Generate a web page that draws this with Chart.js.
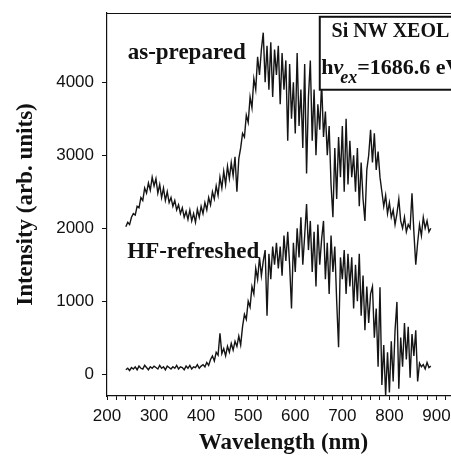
<!DOCTYPE html>
<html>
<head>
    <title>Si NW XEOL</title>
    <style>
        body {
            margin: 0;
            overflow: hidden;
            background: #fff;
        }
        #chartBox {
            width: 460px;
            height: 461px;
        }
    </style>
    <script src="https://cdn.jsdelivr.net/npm/chart.js"></script>
</head>
<body>
    <div id="chartBox">
        <canvas id="xeolChart"></canvas>
    </div>

    <script>
        // wavelength grid (nm), 4 nm step from 240 to 888
        let waveStart = 240;
        let waveStep = 4;

        let asPrepared = [
            2020, 2080, 2050, 2150, 2200, 2180, 2300, 2280, 2420, 2380, 2550, 2480, 2620, 2520, 2700, 2580,
            2680, 2480, 2600, 2420, 2550, 2380, 2500, 2350, 2420, 2300,
            2380, 2250, 2320, 2200, 2280, 2150, 2230, 2120, 2250, 2100, 2200, 2080, 2260, 2150, 2300,
            2200, 2350, 2250, 2420, 2320, 2500, 2400, 2580, 2450, 2700, 2550, 2780, 2600, 2850, 2680, 2900, 2720,
            2980, 2500, 2950, 3100, 3300, 3250, 3550, 3450, 3800, 3650, 4050, 3900, 4350, 4100,
            4450, 4680, 4000, 4500, 3900, 4550, 3800, 4450, 4100, 4500, 3700, 4400, 3900, 4300,
            3200, 4250, 3500, 4000, 3300, 4400, 3400, 3900, 3100, 4250, 2750, 3800, 4300, 3200, 3900,
            3000, 3700, 3350, 4000, 3250, 3600, 3000, 3400, 2600, 2150, 3100, 2400, 3250, 2700, 3400,
            2500, 3500, 2600, 3200, 2700, 3000, 2500, 3100, 2300, 2900, 2400, 2100, 2800, 3000, 3350, 2900,
            3300, 2800, 3050, 2700, 2500, 2300, 2450, 2200, 2350, 2150, 2250, 2050, 2200, 2400, 2100, 2000,
            2150, 1950, 2050, 2000, 2480, 1950, 1500, 1800, 2050, 1900, 2150, 2000, 2100, 1950, 2000
        ];

        let hfRefreshed = [
            60, 80, 50, 90, 70, 100, 60, 110, 80, 70, 120, 90, 60, 100, 80, 110,
            90, 70, 120, 80, 100, 60, 110, 90, 70, 100,
            80, 120, 70, 100, 90, 60, 110, 80, 120, 70, 100, 90, 130, 80, 110,
            130, 100, 160, 120, 200, 250, 180, 300, 260, 560, 280, 350, 250, 380, 300, 420, 330,
            450, 380, 520, 400, 650, 820, 750, 1000, 920, 1200, 1100, 1450, 1300, 1600,
            1350, 1550, 1700, 800, 1650, 1300, 1750, 1500, 1800, 1450, 1750, 1350, 1900, 1550,
            1950, 1500, 900, 1800, 1400, 2000, 1600, 2150, 1500, 1900, 2330, 1700, 2100, 1400, 1950,
            1200, 2050, 1500, 1850, 2100, 1300, 1800, 1100, 1900, 1400, 1750, 1000, 370, 1600, 1300,
            1700, 1100, 1650, 1200, 1600, 900, 1500, 1000, 1650, 800, 1350, 600, 1200, 700, 1100, 1200,
            500, 900, 100, 1190, -150, 400, -300, 300, -250, 450, -100, 600, 990, -200, 500, 100,
            700, 200, 650, -50, 550, 250, 600, -100, 150, 100, 130, 70, 160, 90, 110
        ];

        let yTickValues = [0, 1000, 2000, 3000, 4000];
        let xTickLabels = [200, 300, 400, 500, 600, 700, 800, 900];

        let seriesNames = ['as-prepared', 'HF-refreshed'];
        let boxTitle = 'Si NW XEOL';
        let boxEnergy = '=1686.6 eV';

        function toPoints(values) {
            let pts = [];
            for (let i = 0; i < values.length; i++) {
                pts.push({ x: waveStart + i * waveStep, y: values[i] });
            }
            return pts;
        }

        // frame line on top, curve labels and the boxed caption
        let decorations = {
            id: 'decorations',
            afterDraw(chart) {
                let c = chart.ctx;
                let area = chart.chartArea;
                let xs = chart.scales.x;
                let ys = chart.scales.y;
                c.save();
                c.strokeStyle = '#111';
                c.lineWidth = 1.2;
                c.beginPath();
                c.moveTo(area.left, area.top + 0.5);
                c.lineTo(area.right, area.top + 0.5);
                c.stroke();

                c.fillStyle = '#111';
                c.textBaseline = 'middle';
                c.font = 'bold 23px "Liberation Serif"';
                c.fillText(seriesNames[0], xs.getPixelForValue(244), ys.getPixelForValue(4400));
                c.fillText(seriesNames[1], xs.getPixelForValue(243), ys.getPixelForValue(1670));

                // caption box
                let bx = xs.getPixelForValue(651);
                let by = ys.getPixelForValue(4905);
                let bb = ys.getPixelForValue(3905);
                c.fillStyle = '#fff';
                c.fillRect(bx, by, chart.width - bx + 5, bb - by);
                c.strokeStyle = '#111';
                c.lineWidth = 2;
                c.strokeRect(bx + 0.5, by + 0.5, chart.width - bx + 5, bb - by);

                c.fillStyle = '#111';
                c.textBaseline = 'alphabetic';
                c.font = 'bold 20px "Liberation Serif"';
                c.fillText(boxTitle, xs.getPixelForValue(677), ys.getPixelForValue(4615));

                let tx = xs.getPixelForValue(655);
                let ty = ys.getPixelForValue(4120);
                c.font = 'bold 22px "Liberation Serif"';
                c.fillText('h', tx, ty);
                tx += c.measureText('h').width;
                c.font = 'italic bold 22px "Liberation Serif"';
                c.fillText('\u03bd', tx, ty);
                tx += c.measureText('\u03bd').width - 3;
                c.font = 'italic bold 18px "Liberation Serif"';
                c.fillText('ex', tx, ty + 9);
                tx += c.measureText('ex').width;
                c.font = 'bold 22px "Liberation Serif"';
                c.fillText(boxEnergy, tx, ty);
                c.restore();
            }
        };

        let ctx = document.getElementById('xeolChart').getContext('2d');
        let myChart = new Chart(ctx, {
            type: 'line',
            data: {
                datasets: [{
                    label: seriesNames[0],
                    data: toPoints(asPrepared),
                    borderColor: '#151515',
                    borderWidth: 1.4,
                    pointRadius: 0,
                    tension: 0
                }, {
                    label: seriesNames[1],
                    data: toPoints(hfRefreshed),
                    borderColor: '#151515',
                    borderWidth: 1.4,
                    pointRadius: 0,
                    tension: 0
                }]
            },
            options: {
                responsive: true,
                maintainAspectRatio: false,
                animation: false,
                layout: {
                    padding: { top: 13, right: 0, bottom: 0, left: 0 }
                },
                plugins: {
                    legend: { display: false },
                    tooltip: { enabled: false }
                },
                scales: {
                    x: {
                        type: 'linear',
                        min: 200,
                        max: 950,
                        border: { display: true, color: '#111', width: 1.2 },
                        grid: {
                            drawOnChartArea: false,
                            drawTicks: true,
                            tickLength: 4,
                            tickColor: '#111'
                        },
                        ticks: {
                            stepSize: 20,
                            autoSkip: false,
                            maxRotation: 0,
                            includeBounds: false,
                            padding: 6,
                            color: '#111',
                            font: { family: '"Liberation Sans"', size: 17 },
                            callback: function(v) {
                                return xTickLabels.indexOf(v) >= 0 ? String(v) : '';
                            }
                        },
                        title: {
                            display: true,
                            text: 'Wavelength (nm)',
                            color: '#111',
                            font: { family: '"Liberation Serif"', size: 23, weight: 'bold' },
                            padding: { top: 0, bottom: 4 }
                        },
                        afterFit: function(scale) {
                            scale.height = 65;
                            scale.paddingLeft = 0;
                            scale.paddingRight = 0;
                        }
                    },
                    y: {
                        min: -300,
                        max: 4950,
                        border: { display: true, color: '#111', width: 1.2 },
                        grid: {
                            drawOnChartArea: false,
                            drawTicks: true,
                            tickLength: 5,
                            tickColor: '#111'
                        },
                        afterBuildTicks: function(scale) {
                            scale.ticks = yTickValues.map(function(v) { return { value: v }; });
                        },
                        ticks: {
                            padding: 8,
                            color: '#111',
                            font: { family: '"Liberation Sans"', size: 17 },
                            callback: function(v) {
                                return String(v);
                            }
                        },
                        title: {
                            display: true,
                            text: 'Intensity (arb. units)',
                            color: '#111',
                            font: { family: '"Liberation Serif"', size: 23, weight: 'bold' },
                            padding: { top: 12, bottom: 0 }
                        },
                        afterFit: function(scale) {
                            scale.width = 107;
                            scale.paddingTop = 0;
                            scale.paddingBottom = 0;
                        }
                    }
                }
            },
            plugins: [decorations]
        });
    </script>
</body>
</html>
